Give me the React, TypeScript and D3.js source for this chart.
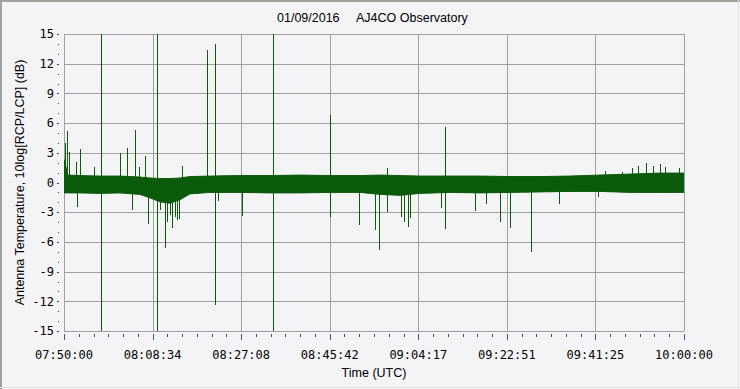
import React from 'react';
import * as d3 from 'd3';

const W = 740, H = 389;
const margin = { left: 64, right: 56, top: 34, bottom: 58 };

const START = new Date(2016, 0, 9, 7, 50, 0);
const END = new Date(2016, 0, 9, 10, 0, 0);

// noise band envelope (minutes after 07:50, dB)
const envMinutes = [0, 0.4, 0.8, 3.4, 7.5, 11.7, 15.9, 18.0, 20.1, 22.2, 24.3, 26.4, 30.6, 36.9, 43.2, 49.5, 55.8, 62.1, 66.3, 70.5, 74.6, 80.9, 87.2, 93.5, 99.8, 106.1, 112.4, 118.7, 125.0, 130];
const envHigh = [2.3, 1.6, 0.75, 0.7, 0.65, 0.65, 0.55, 0.45, 0.4, 0.4, 0.45, 0.6, 0.65, 0.7, 0.7, 0.75, 0.7, 0.7, 0.75, 0.7, 0.65, 0.65, 0.65, 0.6, 0.6, 0.65, 0.75, 0.85, 0.95, 0.95];
const envLow = [-1.05, -1.05, -1.05, -1.05, -1.1, -1.05, -1.2, -1.55, -1.95, -2.1, -1.75, -1.15, -1.0, -1.0, -1.05, -1.05, -1.0, -1.0, -1.2, -1.3, -1.1, -1.0, -1.05, -1.0, -0.95, -0.9, -0.9, -1.0, -1.0, -1.0];

// individual spikes (minutes after 07:50, upper and lower excursion in dB)
const spikeMinutes = [0.2, 0.7, 0.95, 2.6, 2.8, 3.35, 6.35, 7.7, 11.8, 13.3, 14.3, 14.95, 15.8, 17.05, 17.7, 19.55, 20.1, 21.25, 21.65, 22.2, 22.7, 23.3, 23.75, 24.2, 24.8, 29.9, 31.7, 32.2, 37.4, 43.75, 55.7, 61.8, 65.3, 66.1, 67.8, 70.6, 71.3, 72.05, 72.55, 79.1, 79.95, 86.25, 88.4, 91.4, 93.6, 98.0, 103.85, 111.95, 113.4, 116.95, 119.0, 120.4, 122.0, 123.55, 124.95, 126.0, 128.95];
const spikeHigh = [4.0, 5.2, 3.1, 2.1, 0, 3.4, 1.6, 15, 3.0, 3.45, 0, 5.3, 1.6, 2.7, 0, 15, 0, 0, 0, 0, 0, 0, 0, 0, 1.7, 13.4, 14.0, 0, 0, 15, 6.8, 0, 0, 0, 1.5, 0, 0, 0, 0, 0, 5.6, 0, 0, 0, 0, 0, 0, 0, 1.2, 1.1, 1.45, 1.7, 2.0, 1.65, 1.85, 1.6, 1.5];
const spikeLow = [0, 0, 0, 0, -2.5, 0, 0, -15, 0, 0, -2.8, 0, 0, 0, -4.2, -15, -2.8, -6.6, -4.0, -3.3, -4.6, -3.45, -3.8, -3.7, 0, 0, -12.4, -1.9, -3.35, -15, -3.45, -4.3, -4.8, -6.8, -3.0, -3.45, -4.0, -4.5, -3.6, -2.6, -4.7, -2.85, -2.2, -4.0, -4.6, -7.0, -2.2, -1.5, 0, 0, 0, 0, 0, 0, 0, 0, 0];

const xTickLabels = ['07:50:00', '08:08:34', '08:27:08', '08:45:42', '09:04:17', '09:22:51', '09:41:25', '10:00:00'];
const yTicks = [-15, -12, -9, -6, -3, 0, 3, 6, 9, 12, 15];

const GREEN = '#0b5a0b';
const GRID = '#a0a0a0';
const BG = '#f4f4f6';
const MONO = '"DejaVu Sans Mono", monospace';
const SANS = '"Liberation Sans", Arial, sans-serif';

const atMinute = (m: number) => new Date(START.getTime() + m * 60000);

export default function App() {
  const x = d3.scaleTime().domain([START, END]).range([margin.left, W - margin.right]);
  const y = d3.scaleLinear().domain([-15, 15]).range([H - margin.bottom, margin.top]);
  const plotBottom = y(-15);
  const plotTop = y(15);

  const band = envMinutes.map((m, i) => ({ t: atMinute(m), hi: envHigh[i], lo: envLow[i] }));
  const area = d3.area<{ t: Date; hi: number; lo: number }>()
    .x(d => x(d.t))
    .y0(d => y(d.lo))
    .y1(d => y(d.hi));

  const majorStep = 130 / (xTickLabels.length - 1);
  const majors = xTickLabels.map((_, i) => atMinute(i * majorStep));
  const minors = d3.range(0, (xTickLabels.length - 1) * 6 + 1).map(i => atMinute(i * majorStep / 6));
  const yMinor = d3.range(-15, 16);
  const px = (v: number) => Math.round(v) + 0.5;

  return (
    <div style={{ position: 'absolute', left: 0, top: 0 }}>
      <svg width={W} height={H} style={{ display: 'block' }}>
        <rect x={0} y={0} width={W} height={H} fill={BG} />
        <line x1={0} x2={W} y1={1} y2={1} stroke={GRID} strokeWidth={2} />
        <line x1={1} x2={1} y1={0} y2={H} stroke={GRID} strokeWidth={2} />
        <line x1={W - 1.5} x2={W - 1.5} y1={0} y2={H} stroke="#e2e2e4" strokeWidth={1} />
        <line x1={0} x2={W} y1={H - 1.5} y2={H - 1.5} stroke="#e2e2e4" strokeWidth={1} />

        <text x={277} y={22} fontFamily={SANS} fontSize={12.5} fill="#000">01/09/2016</text>
        <text x={356} y={22} fontFamily={SANS} fontSize={12.5} fill="#000">AJ4CO Observatory</text>

        <defs>
          <clipPath id="plot">
            <rect x={margin.left} y={plotTop} width={W - margin.left - margin.right} height={plotBottom - plotTop} />
          </clipPath>
        </defs>

        {yTicks.map(v => (
          <line key={'gy' + v} x1={margin.left} x2={W - margin.right} y1={px(y(v))} y2={px(y(v))} stroke={GRID} />
        ))}
        {majors.map((t, i) => (
          <line key={'gx' + i} x1={px(x(t))} x2={px(x(t))} y1={plotTop} y2={plotBottom} stroke={GRID} />
        ))}

        <g clipPath="url(#plot)">
          <path d={area(band) || ''} fill={GREEN} stroke={GREEN} strokeWidth={1} />
          {spikeMinutes.map((m, i) => (
            <line key={'s' + i}
              x1={px(x(atMinute(m)))} x2={px(x(atMinute(m)))}
              y1={Math.round(y(spikeHigh[i]))} y2={Math.round(y(spikeLow[i]))}
              stroke={GREEN} strokeWidth={1} shapeRendering="crispEdges" />
          ))}
        </g>

        {yMinor.map(v => (
          <line key={'ym' + v} x1={v % 3 === 0 ? 57 : 58} x2={59} y1={px(y(v))} y2={px(y(v))} stroke="#404040" />
        ))}
        {yTicks.map(v => (
          <text key={'yl' + v} x={54} y={y(v)} dy="0.35em" textAnchor="end" fontFamily={MONO} fontSize={12} fill="#000">{v}</text>
        ))}

        {minors.map((t, i) => (
          <line key={'xm' + i} x1={px(x(t))} x2={px(x(t))} y1={334} y2={i % 6 === 0 ? 340 : 337}
            stroke={i % 6 === 0 ? '#2a5db0' : '#34508a'} />
        ))}
        {majors.map((t, i) => (
          <text key={'xl' + i} x={x(t)} y={359} textAnchor="middle" fontFamily={MONO} fontSize={12} fill="#000">{xTickLabels[i]}</text>
        ))}

        <text x={374} y={377} textAnchor="middle" fontFamily={SANS} fontSize={12.5} fill="#000">Time (UTC)</text>
        <text transform={`translate(24, ${(plotTop + plotBottom) / 2}) rotate(-90)`} textAnchor="middle" fontFamily={SANS} fontSize={12.5} fill="#000">
          Antenna Temperature, 10log[RCP/LCP] (dB)
        </text>
      </svg>
    </div>
  );
}
